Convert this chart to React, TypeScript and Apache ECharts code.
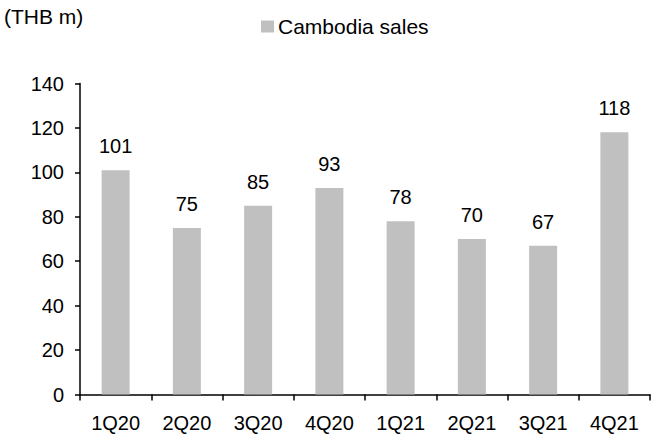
import React, { useEffect, useRef } from "react";
import * as echarts from "echarts";

const categories = ["1Q20", "2Q20", "3Q20", "4Q20", "1Q21", "2Q21", "3Q21", "4Q21"];
const salesValues = [101, 75, 85, 93, 78, 70, 67, 118];
const seriesName = "Cambodia sales";
const unitLabel = "(THB m)";
const yMin = 0;
const yMax = 140;
const yInterval = 20;

const FONT = "'Liberation Sans', Arial, sans-serif";

export default function App() {
  const ref = useRef<HTMLDivElement>(null);
  useEffect(() => {
    document.body.style.margin = "0";
    const chart = echarts.init(ref.current!, null, { renderer: "svg" });
    chart.setOption({
      animation: false,
      backgroundColor: "#ffffff",
      textStyle: { fontFamily: FONT },
      grid: { left: 80, right: 1, top: 83.5, bottom: 42.5, containLabel: false },
      graphic: [
        {
          type: "text",
          left: 4,
          top: 6,
          style: { text: unitLabel, font: `21px ${FONT}`, fill: "#000" },
        },
      ],
      legend: {
        left: 256,
        top: 11,
        itemWidth: 13,
        itemHeight: 12,
        itemGap: 5,
        icon: "rect",
        textStyle: { fontSize: 21, color: "#000", fontFamily: FONT, padding: [0, 0, 0, -1] },
        data: [seriesName],
      },
      xAxis: {
        type: "category",
        data: categories,
        boundaryGap: true,
        axisLine: { lineStyle: { color: "#000", width: 1.5 } },
        axisTick: { show: true, length: 6, lineStyle: { color: "#000", width: 1.5 } },
        axisLabel: { color: "#000", fontSize: 20, margin: 18, fontFamily: FONT },
      },
      yAxis: {
        type: "value",
        min: yMin,
        max: yMax,
        interval: yInterval,
        splitLine: { show: false },
        axisLine: { show: true, lineStyle: { color: "#000", width: 1.5 } },
        axisTick: { show: true, length: 5, lineStyle: { color: "#000", width: 1.5 } },
        axisLabel: { color: "#000", fontSize: 20, margin: 16, fontFamily: FONT },
      },
      series: [
        {
          name: seriesName,
          type: "bar",
          data: salesValues,
          barWidth: 28,
          itemStyle: { color: "#c0c0c0" },
          label: {
            show: true,
            position: "top",
            distance: 14,
            color: "#000",
            fontSize: 20,
            fontFamily: FONT,
          },
        },
      ],
    });
    return () => chart.dispose();
  }, []);
  return <div ref={ref} style={{ width: 651, height: 437 }} />;
}
